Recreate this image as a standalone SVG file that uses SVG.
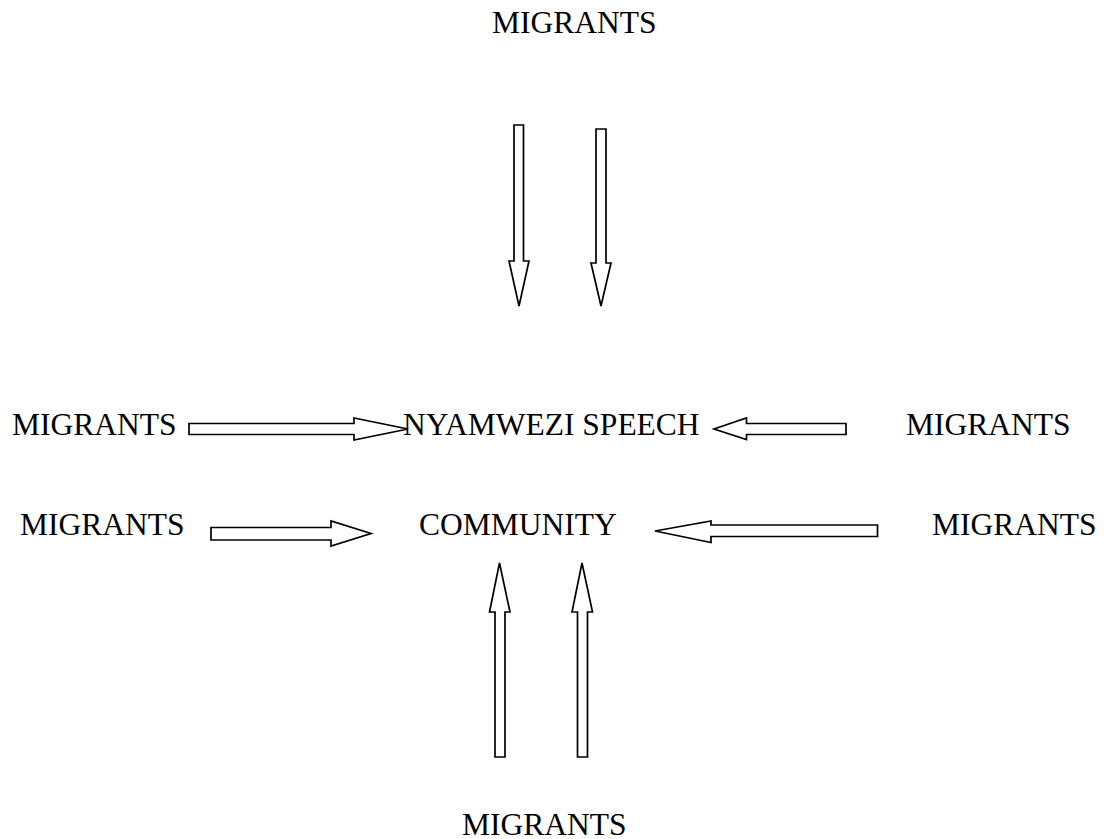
<svg xmlns="http://www.w3.org/2000/svg" width="1113" height="839" viewBox="0 0 1113 839">
  <style>
    .lbl { font-family: "Liberation Serif", "Times New Roman", serif; font-size: 31.5px; fill: #000; }
    .arrow { fill: #fff; stroke: #000; stroke-width: 1.7; stroke-linejoin: miter; }
  </style>
  <rect width="1113" height="839" fill="#fff"/>

  <g id="center">
    <text class="lbl" x="403" y="434.5">NYAMWEZI SPEECH</text>
    <text class="lbl" x="419" y="535">COMMUNITY</text>
  </g>
  <g id="migrants-top"><text class="lbl" x="492" y="33">MIGRANTS</text></g>
  <g id="migrants-left-1"><text class="lbl" x="12" y="435">MIGRANTS</text></g>
  <g id="migrants-right-1"><text class="lbl" x="906" y="435">MIGRANTS</text></g>
  <g id="migrants-left-2"><text class="lbl" x="20" y="535">MIGRANTS</text></g>
  <g id="migrants-right-2"><text class="lbl" x="932" y="535">MIGRANTS</text></g>
  <g id="migrants-bottom"><text class="lbl" x="462" y="835">MIGRANTS</text></g>

  <g id="connectors">
    <!-- from above -->
    <polygon class="arrow" points="514,125 523.5,125 523.5,261 529,261 519,306 509,261 514,261"/>
    <polygon class="arrow" points="596,129 606,129 606,263 611,263 601,306 591,263 596,263"/>
    <!-- from the left -->
    <polygon class="arrow" points="189,423.5 354,423.5 354,418 408,429 354,440 354,434.5 189,434.5"/>
    <polygon class="arrow" points="211,527.5 331,527.5 331,521 371,533.5 331,546 331,540 211,540"/>
    <!-- from the right -->
    <polygon class="arrow" points="846,423.5 746.5,423.5 746.5,418 714,429 746.5,439.5 746.5,434.5 846,434.5"/>
    <polygon class="arrow" points="877.5,525 711,525 711,521 655,531 711,542.5 711,536.5 877.5,536.5"/>
    <!-- from below -->
    <polygon class="arrow" points="495,757 505,757 505,612 510,612 499.5,563 489.5,612 495,612"/>
    <polygon class="arrow" points="577.5,757 587.5,757 587.5,612 592.5,612 582,563 572,612 577.5,612"/>
  </g>
</svg>
